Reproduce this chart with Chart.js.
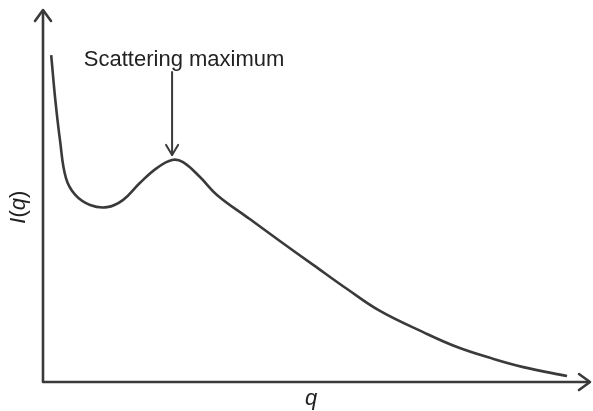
<!DOCTYPE html>
<html>
<head>
<meta charset="utf-8">
<script src="https://cdn.jsdelivr.net/npm/chart.js@4/dist/chart.umd.min.js"></script>
<style>
  html, body { margin: 0; padding: 0; background: #fff; }
  #wrap { width: 593px; height: 411px; position: relative; }
</style>
</head>
<body>
<div id="wrap"><canvas id="scatterChart"></canvas></div>
<script>
// curve (arbitrary units, q 0..10, I 0..10)
const qValues   = [0.15, 0.22, 0.31, 0.42, 0.59, 0.86, 1.17, 1.46, 1.77, 2.08, 2.36, 2.56, 2.87, 3.18, 3.78, 4.33, 4.94, 5.56, 6.16, 6.95, 7.57, 8.17, 8.78, 9.58];
const intensity = [8.79, 7.66, 6.51, 5.48, 5.03, 4.76, 4.70, 4.89, 5.35, 5.75, 5.97, 5.91, 5.51, 5.03, 4.38, 3.79, 3.15, 2.50, 1.91, 1.34, 0.94, 0.65, 0.40, 0.16];
const peakIndex = 10;
const peakLabel = 'Scattering maximum';
const xTitle = 'q';
const yTitle = ['I', '(', 'q', ')'];

const inkColor = '#3a3a3a';
const fontFamily = "'Liberation Sans', Arial, Helvetica, sans-serif";

function chevron(ctx, x, y, dir){
  // open arrow head, dir: 'up' or 'right'
  ctx.beginPath();
  if (dir === 'up') {
    ctx.moveTo(x - 8, y + 11); ctx.lineTo(x, y); ctx.lineTo(x + 8, y + 11);
  } else {
    ctx.moveTo(x - 11, y - 8); ctx.lineTo(x, y); ctx.lineTo(x - 11, y + 8);
  }
  ctx.stroke();
}

const sketchPlugin = {
  id: 'sketch',
  afterDatasetsDraw(chart){
    const ctx = chart.ctx;
    const a = chart.chartArea;
    const xs = chart.scales.x, ys = chart.scales.y;
    ctx.save();
    ctx.strokeStyle = inkColor;
    ctx.fillStyle = '#222';
    ctx.lineWidth = 2.6;
    ctx.lineCap = 'round';
    ctx.lineJoin = 'round';
    // axes
    ctx.beginPath();
    ctx.moveTo(a.left, a.top + 1);
    ctx.lineTo(a.left, a.bottom);
    ctx.lineTo(a.right - 1, a.bottom);
    ctx.stroke();
    chevron(ctx, a.left, a.top, 'up');
    chevron(ctx, a.right, a.bottom, 'right');

    // annotation arrow to the peak
    const px = xs.getPixelForValue(qValues[peakIndex]);
    const py = ys.getPixelForValue(intensity[peakIndex]);
    ctx.lineWidth = 2;
    ctx.beginPath();
    ctx.moveTo(px, py - 88);
    ctx.lineTo(px, py - 5);
    ctx.stroke();
    ctx.beginPath();
    ctx.moveTo(px - 6, py - 15); ctx.lineTo(px, py - 5); ctx.lineTo(px + 6, py - 15);
    ctx.stroke();

    ctx.font = '22px ' + fontFamily;
    ctx.textAlign = 'center';
    ctx.textBaseline = 'alphabetic';
    ctx.fillText(peakLabel, px + 12, py - 94);

    // axis titles
    ctx.font = 'italic 22px ' + fontFamily;
    ctx.textBaseline = 'middle';
    ctx.fillText(xTitle, xs.getPixelForValue(4.9), a.bottom + 17);

    ctx.translate(a.left - 24, ys.getPixelForValue(4.7));
    ctx.rotate(-Math.PI / 2);
    ctx.textAlign = 'left';
    let w = 0;
    const parts = yTitle.map(function(t){
      const f = (t === 'I' || t === 'q') ? 'italic 22px ' : '22px ';
      ctx.font = f + fontFamily;
      const m = ctx.measureText(t).width;
      w += m;
      return {t: t, f: f, m: m};
    });
    let cx = -w / 2;
    parts.forEach(function(p){
      ctx.font = p.f + fontFamily;
      ctx.fillText(p.t, cx, 0);
      cx += p.m;
    });
    ctx.restore();
  }
};

var ctx = document.getElementById('scatterChart').getContext('2d');
var myChart = new Chart(ctx, {
  type: 'line',
  plugins: [sketchPlugin],
  data: {
    datasets: [{
      label: 'I(q)',
      data: qValues.map(function(q, i){ return {x: q, y: intensity[i]}; }),
      borderColor: inkColor,
      borderWidth: 2.6,
      pointRadius: 0,
      tension: 0.4,
      fill: false
    }]
  },
  options: {
    responsive: true,
    maintainAspectRatio: false,
    animation: false,
    layout: {
      padding: { left: 43, right: 3, top: 10, bottom: 29 }
    },
    scales: {
      x: { type: 'linear', min: 0, max: 10, display: false },
      y: { min: 0, max: 10, display: false }
    },
    plugins: {
      legend: { display: false },
      tooltip: { enabled: false }
    }
  }
});
</script>
</body>
</html>
